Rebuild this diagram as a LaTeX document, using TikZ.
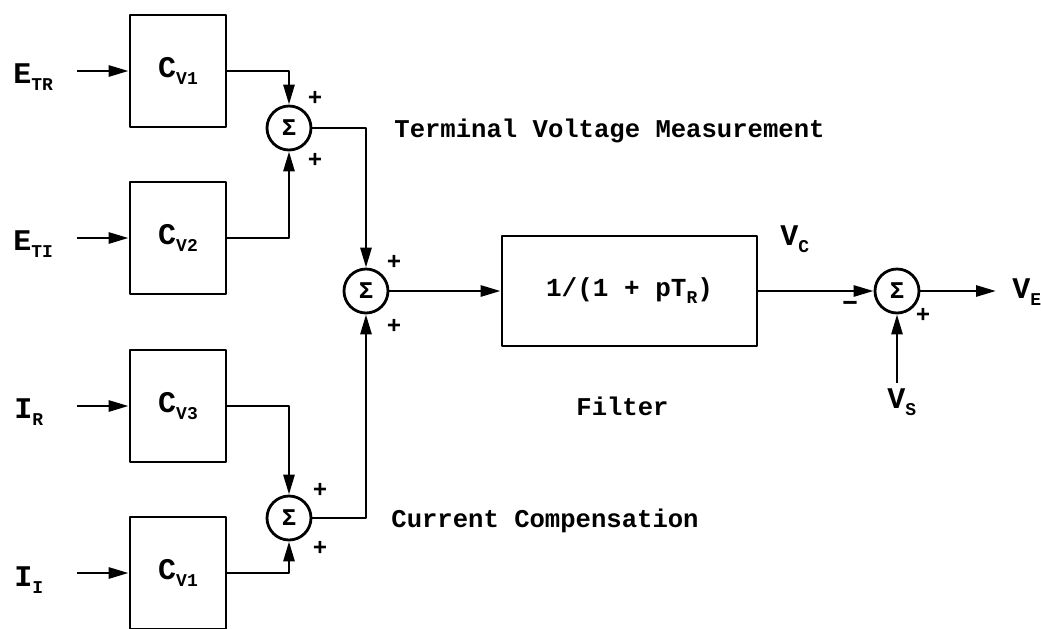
\documentclass[tikz,border=0pt]{standalone}
\usepackage{fontspec}
\setmonofont{Liberation Mono}
\usetikzlibrary{arrows.meta}
\newcommand{\sbs}[1]{\raisebox{-3.5pt}{\fontsize{9}{9}\selectfont\bfseries #1}}

\begin{document}
\begin{tikzpicture}[x=0.5pt, y=-0.5pt, line width=1.4pt, line join=round,
        >={Triangle[length=10pt, width=5.5pt]},
        blk/.style={draw, minimum width=48pt, minimum height=56pt, inner sep=0pt,
            font=\ttfamily\bfseries\fontsize{15}{17}\selectfont},
        sum/.style={draw, circle, minimum size=22pt, inner sep=0pt,
            font=\ttfamily\bfseries\fontsize{12}{12}\selectfont},
        sgn/.style={inner sep=0pt, font=\ttfamily\bfseries\fontsize{12}{12}\selectfont},
        lbl/.style={anchor=base west, inner sep=0pt,
            font=\ttfamily\bfseries\fontsize{15}{17}\selectfont},
        txt/.style={anchor=base west, inner sep=0pt,
            font=\ttfamily\bfseries\fontsize{12.8}{15}\selectfont}]
        \useasboundingbox (0,0) rectangle (1041,628);
        % gain blocks
        \node[blk] (cv1) at (178, 71)  {C\sbs{V1}};
        \node[blk] (cv2) at (178, 238) {C\sbs{V2}};
        \node[blk] (cv3) at (178, 406) {C\sbs{V3}};
        \node[blk] (cv4) at (178, 573) {C\sbs{V1}};
        % inputs
        \coordinate (u1) at (77, 71);
        \coordinate (u2) at (77, 238);
        \coordinate (u3) at (77, 406);
        \coordinate (u4) at (77, 573);
        \node[lbl] (etr) at (12, 83)  {E\sbs{TR}};
        \node[lbl] (eti) at (12, 250) {E\sbs{TI}};
        \node[lbl] (ir)  at (13, 418) {I\sbs{R}};
        \node[lbl] (ii)  at (13, 586) {I\sbs{I}};
        \draw[->] (u1) -- (cv1);
        \draw[->] (u2) -- (cv2);
        \draw[->] (u3) -- (cv3);
        \draw[->] (u4) -- (cv4);
        % summing junctions
        \node[sum] (s1) at (289, 128) {Σ};
        \node[sum] (s2) at (366, 291) {Σ};
        \node[sum] (s3) at (289, 518) {Σ};
        \node[sum] (s4) at (897, 291) {Σ};
        \node[sgn] at ([shift={(26,-30)}]s1) {+};
        \node[sgn] at ([shift={(26,32)}]s1)  {+};
        \node[sgn] at ([shift={(28,-29)}]s2) {+};
        \node[sgn] at ([shift={(28,35)}]s2)  {+};
        \node[sgn] at ([shift={(31,-28)}]s3) {+};
        \node[sgn] at ([shift={(31,30)}]s3)  {+};
        \node[sgn, font=\ttfamily\bfseries\fontsize{15}{15}\selectfont] at ([shift={(-47,15)}]s4) {–};
        \node[sgn] at ([shift={(26,24)}]s4)  {+};
        \draw[->] (cv1) -| (s1);
        \draw[->] (cv2) -| (s1);
        \draw[->] (cv3) -| (s3);
        \draw[->] (cv4) -| (s3);
        \draw[->] (s1) -| (s2);
        \draw[->] (s3) -| (s2);
        % filter
        \node[draw, minimum width=127.5pt, minimum height=55pt,
            font=\ttfamily\bfseries\fontsize{13}{15}\selectfont] (flt) at (629.5, 291) {1/(1 + pT\sbs{R})};
        \draw[->] (s2) -- (flt);
        \draw[->] (flt) -- (s4);
        \node[lbl] (vc) at (779, 245) {V\sbs{C}};
        % output and setpoint
        \coordinate (ve0) at (996, 291);
        \coordinate (vs0) at (897, 383);
        \node[lbl] (ve) at (1011, 298) {V\sbs{E}};
        \node[lbl] (vs) at (886, 408) {V\sbs{S}};
        \draw[->] (s4) -- (ve0);
        \draw[->] (vs0) -- (s4);
        % captions
        \node[txt] (tvm) at (393, 137) {Terminal Voltage Measurement};
        \node[txt] (cc)  at (390, 527) {Current Compensation};
        \node[txt] (ftx) at (575, 415) {Filter};
\end{tikzpicture}
\end{document}
